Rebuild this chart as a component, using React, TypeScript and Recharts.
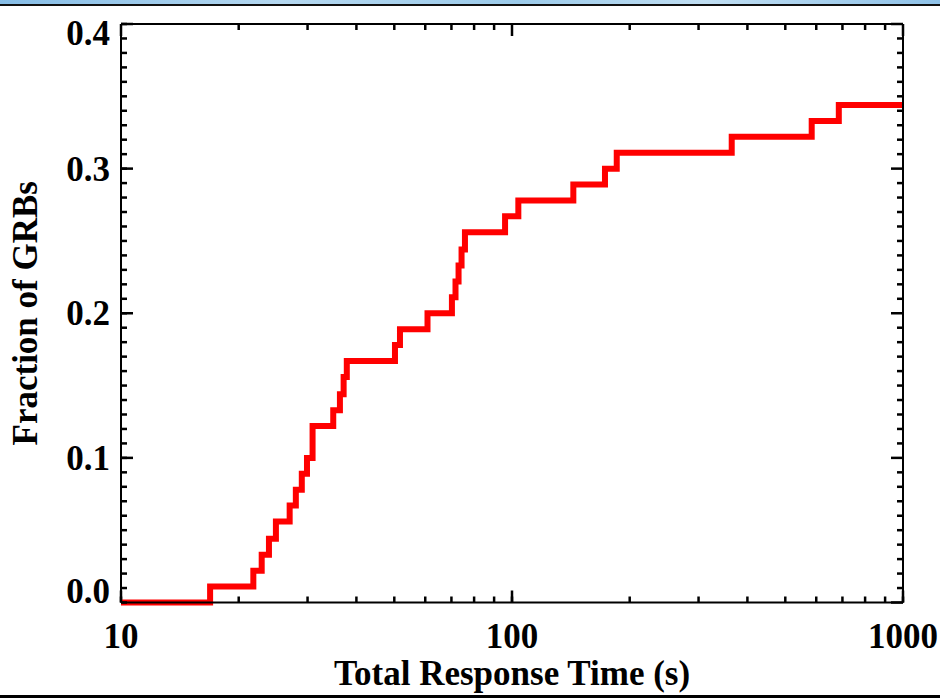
import React from 'react';
import { LineChart, Line, XAxis, YAxis, ReferenceLine } from 'recharts';

// step positions (s) and the cumulative fraction reached at each one
const stepTimes = [
  10, 16.9, 21.8, 22.9, 23.9, 24.9, 27.0, 28.0, 29.0, 29.9, 30.9, 34.9, 36.3, 37.1, 37.8,
  50.2, 51.7, 60.8, 70.2, 71.7, 73.0, 74.3, 75.8, 96.0, 103.8, 143.5, 172.9, 185.3,
  364.7, 584.1, 685.2, 1000,
];
const fractions = [
  0, 0.011, 0.022, 0.033, 0.044, 0.056, 0.067, 0.078, 0.089, 0.1, 0.122, 0.133, 0.144, 0.156,
  0.167, 0.178, 0.189, 0.2, 0.211, 0.222, 0.233, 0.244, 0.256, 0.267, 0.278, 0.289, 0.3,
  0.311, 0.322, 0.333, 0.344, 0.344,
];

const xMajor = [10, 100, 1000];
const xTicks = [10, 20, 30, 40, 50, 60, 70, 80, 90, 100, 200, 300, 400, 500, 600, 700, 800, 900, 1000];
const yMajor = [0, 0.1, 0.2, 0.3, 0.4];
const yLabels = ['0.0', '0.1', '0.2', '0.3', '0.4'];
// minor ticks every 0.01
const yTicks = Array.from({ length: 41 }, (_, i) => Number((i / 100).toFixed(2)));

const data = stepTimes.map((t, i) => ({ t, f: fractions[i] }));

const FONT = '"Liberation Serif", "Times New Roman", serif';
const W = 940;
const H = 698;
const M = { top: 23, right: 36, left: 0, bottom: 0 };
const Y_AXIS_W = 121;
const X_AXIS_H = 95.5;
const PLOT_W = W - M.right - 1 - Y_AXIS_W;
const PLOT_H = H - X_AXIS_H - M.top - 1;
const MAJOR = 12;
const MINOR = 6;
const TICK_W = 2.5;

const isMajorX = (v: number) => xMajor.includes(v);
const isMajorY = (v: number) => yMajor.some((m) => Math.abs(m - v) < 1e-6);

// major tick lengths for the left/bottom edges, in data units
const Y_PER_PX = 0.4 / PLOT_H;
const DECADE_PX = PLOT_W / 2;
const xMajorLen = MAJOR * Y_PER_PX;
const yMajorEnd = 10 * Math.pow(10, MAJOR / DECADE_PX);

const textStyle = { fontFamily: FONT, fontWeight: 'bold' as const, fontSize: 35, fill: '#000' };

// label position = axis line, since tickMargin cancels the inward tick
const BottomTick = ({ x, y, payload }: any) => {
  if (!isMajorX(payload.value)) return null;
  return (
    <g>
      <text x={x} y={y + 45.5} textAnchor="middle" {...textStyle}>
        {payload.value}
      </text>
      {payload.value === 100 && (
        <text x={x} y={y + 82.5} textAnchor="middle" {...textStyle}>
          Total Response Time (s)
        </text>
      )}
    </g>
  );
};

const LeftTick = ({ x, y, payload }: any) => {
  const idx = yMajor.findIndex((m) => Math.abs(m - payload.value) < 1e-6);
  if (idx < 0) return null;
  // edge labels sit inside the frame, like the original
  let dy = 12;
  if (idx === 0) dy = 0.5;
  if (idx === yMajor.length - 1) dy = 21;
  return (
    <g>
      <text x={x - 11} y={y + dy} textAnchor="end" {...textStyle}>
        {yLabels[idx]}
      </text>
      {idx === 2 && (
        <text x={37} y={y} transform={`rotate(-90 37 ${y})`} textAnchor="middle" {...textStyle}>
          Fraction of GRBs
        </text>
      )}
    </g>
  );
};

const TopTick = ({ x, y, payload }: any) => {
  const len = isMajorX(payload.value) ? MAJOR : MINOR;
  return <line x1={x} x2={x} y1={y} y2={y + len} stroke="#000" strokeWidth={TICK_W} />;
};

const RightTick = ({ x, y, payload }: any) => {
  const len = isMajorY(payload.value) ? MAJOR : MINOR;
  return <line x1={x} x2={x - len} y1={y} y2={y} stroke="#000" strokeWidth={TICK_W} />;
};

const tickLineStyle = { stroke: '#000', strokeWidth: TICK_W };

export default function App() {
  return (
    <div style={{ position: 'absolute', left: 0, top: 0, width: W, height: H, background: '#fff' }}>
      <LineChart width={W} height={H} data={data} margin={M}>
        <XAxis
          dataKey="t"
          type="number"
          scale="log"
          domain={[10, 1000]}
          ticks={xTicks}
          interval={0}
          height={X_AXIS_H}
          tickSize={-MINOR}
          tickMargin={MINOR}
          tickLine={tickLineStyle}
          tick={<BottomTick />}
          axisLine={{ stroke: '#000', strokeWidth: 2 }}
        />
        <XAxis
          xAxisId="top"
          orientation="top"
          dataKey="t"
          type="number"
          scale="log"
          domain={[10, 1000]}
          allowDataOverflow
          ticks={xTicks}
          interval={0}
          height={1}
          tickSize={0}
          tickMargin={0}
          tickLine={false}
          tick={<TopTick />}
          axisLine={{ stroke: '#000', strokeWidth: 2 }}
        />
        <YAxis
          type="number"
          domain={[0, 0.4]}
          ticks={yTicks}
          interval={0}
          width={Y_AXIS_W}
          tickSize={-MINOR}
          tickMargin={MINOR}
          tickLine={tickLineStyle}
          tick={<LeftTick />}
          axisLine={{ stroke: '#000', strokeWidth: 2 }}
        />
        <YAxis
          yAxisId="right"
          orientation="right"
          type="number"
          domain={[0, 0.4]}
          allowDataOverflow
          ticks={yTicks}
          interval={0}
          width={1}
          tickSize={0}
          tickMargin={0}
          tickLine={false}
          tick={<RightTick />}
          axisLine={{ stroke: '#000', strokeWidth: 2 }}
        />
        {/* longer major ticks on the bottom and left edges */}
        {xMajor.map((t) => (
          <ReferenceLine
            key={`bt-${t}`}
            segment={[{ x: t, y: 0 }, { x: t, y: xMajorLen }]}
            stroke="#000"
            strokeWidth={TICK_W}
          />
        ))}
        {yMajor.map((v) => (
          <ReferenceLine
            key={`lt-${v}`}
            segment={[{ x: 10, y: v }, { x: yMajorEnd, y: v }]}
            stroke="#000"
            strokeWidth={TICK_W}
          />
        ))}
        <Line
          type="stepAfter"
          dataKey="f"
          stroke="#ff0000"
          strokeWidth={6}
          strokeLinejoin="miter"
          strokeLinecap="butt"
          dot={false}
          activeDot={false}
          isAnimationActive={false}
        />
      </LineChart>
      {/* slide background strip at the top and frame lines */}
      <div
        style={{
          position: 'absolute', left: 0, top: 0, width: W, height: 4,
          background: 'linear-gradient(90deg, #86bde6 0%, #b5d8f0 30%, #9ccbea 55%, #c0def2 75%, #8fc2e8 100%)',
        }}
      />
      <div style={{ position: 'absolute', left: 0, top: 4, width: W, height: 2, background: '#111' }} />
      <div style={{ position: 'absolute', left: 0, top: 695, width: W, height: 3, background: '#000' }} />
    </div>
  );
}
